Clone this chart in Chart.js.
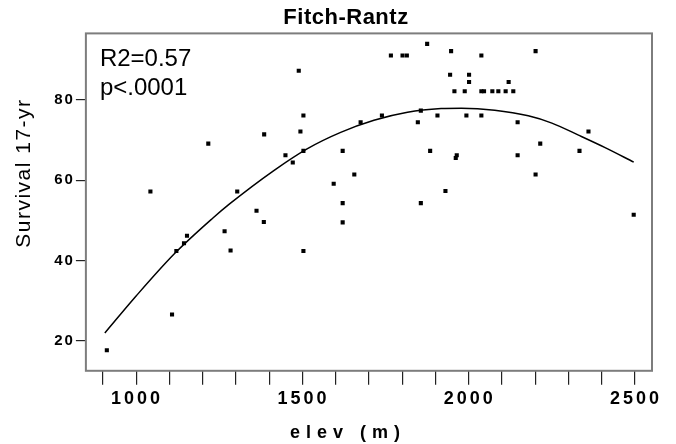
<!DOCTYPE html>
<html>
<head>
<meta charset="utf-8">
<title>Fitch-Rantz</title>
<script src="https://cdn.jsdelivr.net/npm/chart.js@4/dist/chart.umd.min.js"></script>
<style>
  body { margin: 0; background: #fff; }
</style>
</head>
<body>
<canvas id="chart" width="676" height="444"></canvas>
<script>
// observed sites: elevation (m) and 17-yr survival
const elev = [912, 1043, 1108, 1121, 1144, 1153, 1217, 1266, 1284, 1304,
    1362, 1384, 1385, 1449, 1471, 1489, 1494, 1503, 1503, 1503,
    1594, 1621, 1621, 1621, 1656, 1675, 1739, 1766, 1801, 1814,
    1847, 1856, 1856, 1875, 1884, 1906, 1930, 1944, 1947, 1957,
    1961, 1964, 1988, 1993, 2001, 2001, 2038, 2038, 2046, 2038,
    2071, 2089, 2111, 2120, 2134, 2147, 2147, 2201, 2201, 2215,
    2333, 2360, 2496]
const survival = [17.7, 57.2, 26.6, 42.4, 44.3, 46.2, 69.1, 47.3, 42.5, 57.2,
    52.4, 49.6, 71.4, 66.2, 64.4, 87.2, 72.1, 76.1, 67.3, 42.4,
    59.1, 67.3, 54.3, 49.5, 61.4, 74.4, 76.1, 91.0, 91.0, 91.0,
    74.4, 77.3, 54.3, 93.9, 67.3, 76.1, 57.3, 86.2, 92.1, 82.1,
    65.5, 66.2, 82.1, 76.1, 86.2, 84.4, 91.0, 82.1, 82.1, 76.1,
    82.1, 82.1, 82.1, 84.4, 82.1, 74.4, 66.2, 92.1, 61.4, 69.1,
    67.3, 72.1, 51.4]

// fitted curve
const fitElev = [906, 1000, 1115, 1231, 1281, 1414, 1514, 1615, 1715, 1816,
    1917, 1978, 2078, 2179, 2250, 2330, 2410, 2496]
const fitSurvival = [22.0, 31.2, 41.7, 50.6, 54.1, 62.4, 67.8, 71.9, 74.9, 76.9,
    77.8, 77.9, 77.4, 76.0, 74.2, 71.2, 68.1, 64.5]

const xTicks = [900, 1000, 1100, 1200, 1300, 1400, 1500, 1600, 1700, 1800,
    1900, 2000, 2100, 2200, 2300, 2400, 2500]
const xLabels = [1000, 1500, 2000, 2500]
const yTicks = [20, 40, 60, 80]
const statLines = ['R2=0.57', 'p<.0001']

const FAMILY = '"Liberation Sans", Arial, sans-serif'

// wrap a draw method so its text gets letter spacing and a small shift
function spaced(obj, method, spacing, dx, dy){
    const orig = obj[method]
    obj[method] = function(...args){
        const ctx = this.ctx
        ctx.save()
        ctx.letterSpacing = spacing
        ctx.translate(dx, dy)
        orig.apply(this, args)
        ctx.restore()
    }
}

const tweaks = {
    id: 'tweaks',
    beforeDraw(chart){
        if (chart._spaced) return
        chart._spaced = true
        spaced(chart.titleBlock, 'draw', '0.5px', 20, 0)
        spaced(chart.scales.x, 'drawLabels', '3px', 1, 0)
        spaced(chart.scales.x, 'drawTitle', '6px', -21, 0)
        spaced(chart.scales.y, 'drawLabels', '2px', 0, 0)
        spaced(chart.scales.y, 'drawTitle', '1.5px', 0, -29)
    },
    beforeDatasetsDraw(chart){
        const {ctx, chartArea: a} = chart
        ctx.save()
        ctx.strokeStyle = '#7d7d7d'
        ctx.lineWidth = 2
        ctx.strokeRect(a.left, a.top, a.right - a.left, a.bottom - a.top)
        ctx.restore()
    },
    afterDraw(chart){
        const {ctx, chartArea: a} = chart
        ctx.save()
        ctx.fillStyle = '#000'
        ctx.font = '24px ' + FAMILY
        ctx.textBaseline = 'alphabetic'
        statLines.forEach((t, i) => ctx.fillText(t, a.left + 14, a.top + 33 + i * 29))
        ctx.restore()
    }
}

const points = elev.map((x, i) => ({x: x, y: survival[i]}))
const curve = fitElev.map((x, i) => ({x: x, y: fitSurvival[i]}))

new Chart(document.getElementById('chart').getContext('2d'), {
    type: 'scatter',
    data: {
        datasets: [{
                label: 'fit',
                data: curve,
                showLine: true,
                borderColor: '#000',
                borderWidth: 1.5,
                pointRadius: 0,
                cubicInterpolationMode: 'monotone',
                fill: false
            }, {
                label: 'sites',
                data: points,
                pointStyle: 'rect',
                pointRadius: 2.9,
                backgroundColor: '#000',
                borderWidth: 0
            }]
    },
    options: {
        responsive: false,
        animation: false,
        events: [],
        layout: {padding: {left: 0, right: 24, top: 0, bottom: 0}},
        plugins: {
            legend: {display: false},
            tooltip: {enabled: false},
            title: {
                display: true,
                text: 'Fitch-Rantz',
                color: '#000',
                font: {family: FAMILY, size: 22, weight: 'bold'},
                padding: {top: 5, bottom: 2}
            }
        },
        scales: {
            x: {
                type: 'linear',
                min: 849,
                max: 2551,
                afterBuildTicks: s => { s.ticks = xTicks.map(v => ({value: v})) },
                ticks: {
                    autoSkip: false,
                    maxRotation: 0,
                    padding: 3,
                    color: '#000',
                    font: {family: FAMILY, size: 18, weight: 'bold'},
                    callback: v => xLabels.includes(v) ? String(v) : ''
                },
                grid: {drawOnChartArea: false, drawTicks: true, tickLength: 14, color: '#222', lineWidth: 1.2},
                border: {display: false},
                title: {
                    display: true,
                    text: 'elev (m)',
                    color: '#000',
                    font: {family: FAMILY, size: 18, weight: 'bold'},
                    padding: {top: 10, bottom: 0}
                }
            },
            y: {
                min: 12.6,
                max: 96.5,
                afterBuildTicks: s => { s.ticks = yTicks.map(v => ({value: v})) },
                ticks: {
                    padding: 1,
                    color: '#000',
                    font: {family: FAMILY, size: 15, weight: 'bold'}
                },
                grid: {drawOnChartArea: false, drawTicks: true, tickLength: 10, color: '#222', lineWidth: 1.2},
                border: {display: false},
                title: {
                    display: true,
                    text: 'Survival 17-yr',
                    color: '#000',
                    font: {family: FAMILY, size: 21},
                    padding: {top: 12, bottom: 20}
                }
            }
        }
    },
    plugins: [tweaks]
})
</script>
</body>
</html>
